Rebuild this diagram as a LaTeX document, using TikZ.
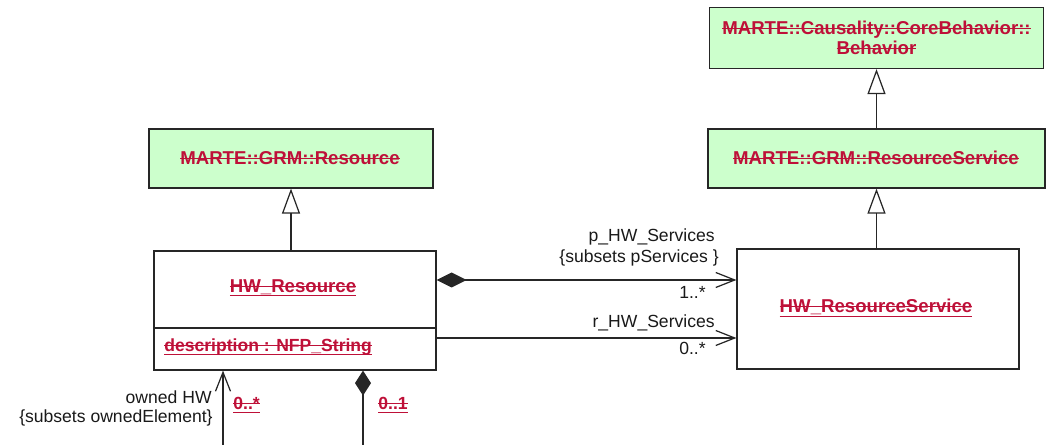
\documentclass[tikz,border=0pt]{standalone}
\usepackage{fontspec}
\setmainfont{Liberation Sans}
\usetikzlibrary{arrows.meta,positioning,calc}
\usepackage{xcolor}
\definecolor{umlred}{RGB}{190,16,56}
\definecolor{umlgreen}{RGB}{204,255,204}
\newsavebox{\umlbox}
\newcommand{\strk}[1]{\sbox{\umlbox}{#1}\rlap{\color{umlred}\rule[0.3em]{\wd\umlbox}{0.6pt}}\usebox{\umlbox}}
\newcommand{\strkul}[1]{\sbox{\umlbox}{#1}\rlap{\color{umlred}\rule[-0.22em]{\wd\umlbox}{0.7pt}}\strk{#1}}

\begin{document}
\begin{tikzpicture}[
  x=0.02cm,y=-0.02cm,font=\fontsize{10}{12}\selectfont,
  cls/.style={draw=black!85, line width=0.7pt, inner sep=0pt},
  grmcls/.style={cls, fill=umlgreen},
  title/.style={font=\fontsize{10.6}{11.5}\selectfont\bfseries, text=umlred,
    align=center, inner sep=0pt},
  lbl/.style={anchor=east, inner sep=0pt, text=black!90},
  mult/.style={title, font=\fontsize{10}{11.5}\selectfont\bfseries, anchor=west},
  gen/.style={-{Triangle[open,length=5mm,width=3.6mm]}, line width=0.7pt, draw=black!85},
  assoc/.style={-{Straight Barb[length=3.8mm,width=3mm]}, line width=0.7pt, draw=black!85},
  comp/.style={{Diamond[length=6mm,width=3mm]}-{Straight Barb[length=3.8mm,width=3mm]},
    line width=0.7pt, draw=black!85},
  part/.style={{Diamond[length=5mm,width=3.2mm]}-, line width=0.7pt, draw=black!85}
]
  \useasboundingbox (0,0) rectangle (1048,445);

  % classes
  \node[grmcls, minimum width=6.68cm, minimum height=1.22cm] (behav) at (876.5,38) {};
  \node[title] (behavname) at (876.5,38)
    {\strk{MARTE::Causality::CoreBehavior::}\\\strk{Behavior}};
  \node[grmcls, minimum width=5.68cm, minimum height=1.18cm] (grmres) at (291,158.5) {};
  \node[title] (grmresname) at (290,158) {\strk{MARTE::GRM::Resource}};
  \node[grmcls, minimum width=6.74cm, minimum height=1.18cm] (grmsrv) at (876.5,158.5) {};
  \node[title] (grmsrvname) at (876,158) {\strk{MARTE::GRM::ResourceService}};
  \node[cls, minimum width=5.64cm, minimum height=2.38cm] (hwres) at (295,310.5) {};
  \node[title] (hwresname) at (293,288) {\strkul{HW\_Resource}};
  \coordinate (divrow) at (0,328);
  \draw[cls] (hwres.west |- divrow) -- (hwres.east |- divrow);
  \node[mult] (hwresattr) at (164,347) {\strkul{description : NFP\_String}};
  \node[cls, minimum width=5.64cm, minimum height=2.4cm] (hwsrv) at (878,309) {};
  \node[title] (hwsrvname) at (876,308) {\strkul{HW\_ResourceService}};

  % generalizations
  \draw[gen] (hwres.north -| grmres.south) -- (grmres.south);
  \draw[gen] (hwsrv.north -| grmsrv.south) -- (grmsrv.south);
  \draw[gen] (grmsrv.north) -- (behav.south);

  % associations
  \coordinate (prow) at (0,280);
  \coordinate (rrow) at (0,338);
  \draw[comp] (hwres.east |- prow) -- (hwsrv.west |- prow);
  \draw[assoc] (hwres.east |- rrow) -- (hwsrv.west |- rrow);
  \node[lbl] (pname) at (715,237) {p\_HW\_Services};
  \node[lbl] (psubs) at (719,258) {\{subsets pServices \}};
  \node[lbl] (pmult) at (706,292) {1..*};
  \node[lbl] (rname) at (715,323) {r\_HW\_Services};
  \node[lbl] (rmult) at (706,348) {0..*};

  \coordinate (ownend) at (223,445);
  \coordinate (partend) at (363,445);
  \draw[assoc] (ownend) -- (ownend |- hwres.south);
  \draw[part] (partend |- hwres.south) -- (partend);
  \node[lbl] (ownname) at (212,397) {owned HW};
  \node[lbl] (ownsubs) at (213,418) {\{subsets ownedElement\}};
  \node[mult] (ownmult) at (233,405) {\strkul{0..*}};
  \node[mult] (partmult) at (378,405) {\strkul{0..1}};
\end{tikzpicture}
\end{document}
